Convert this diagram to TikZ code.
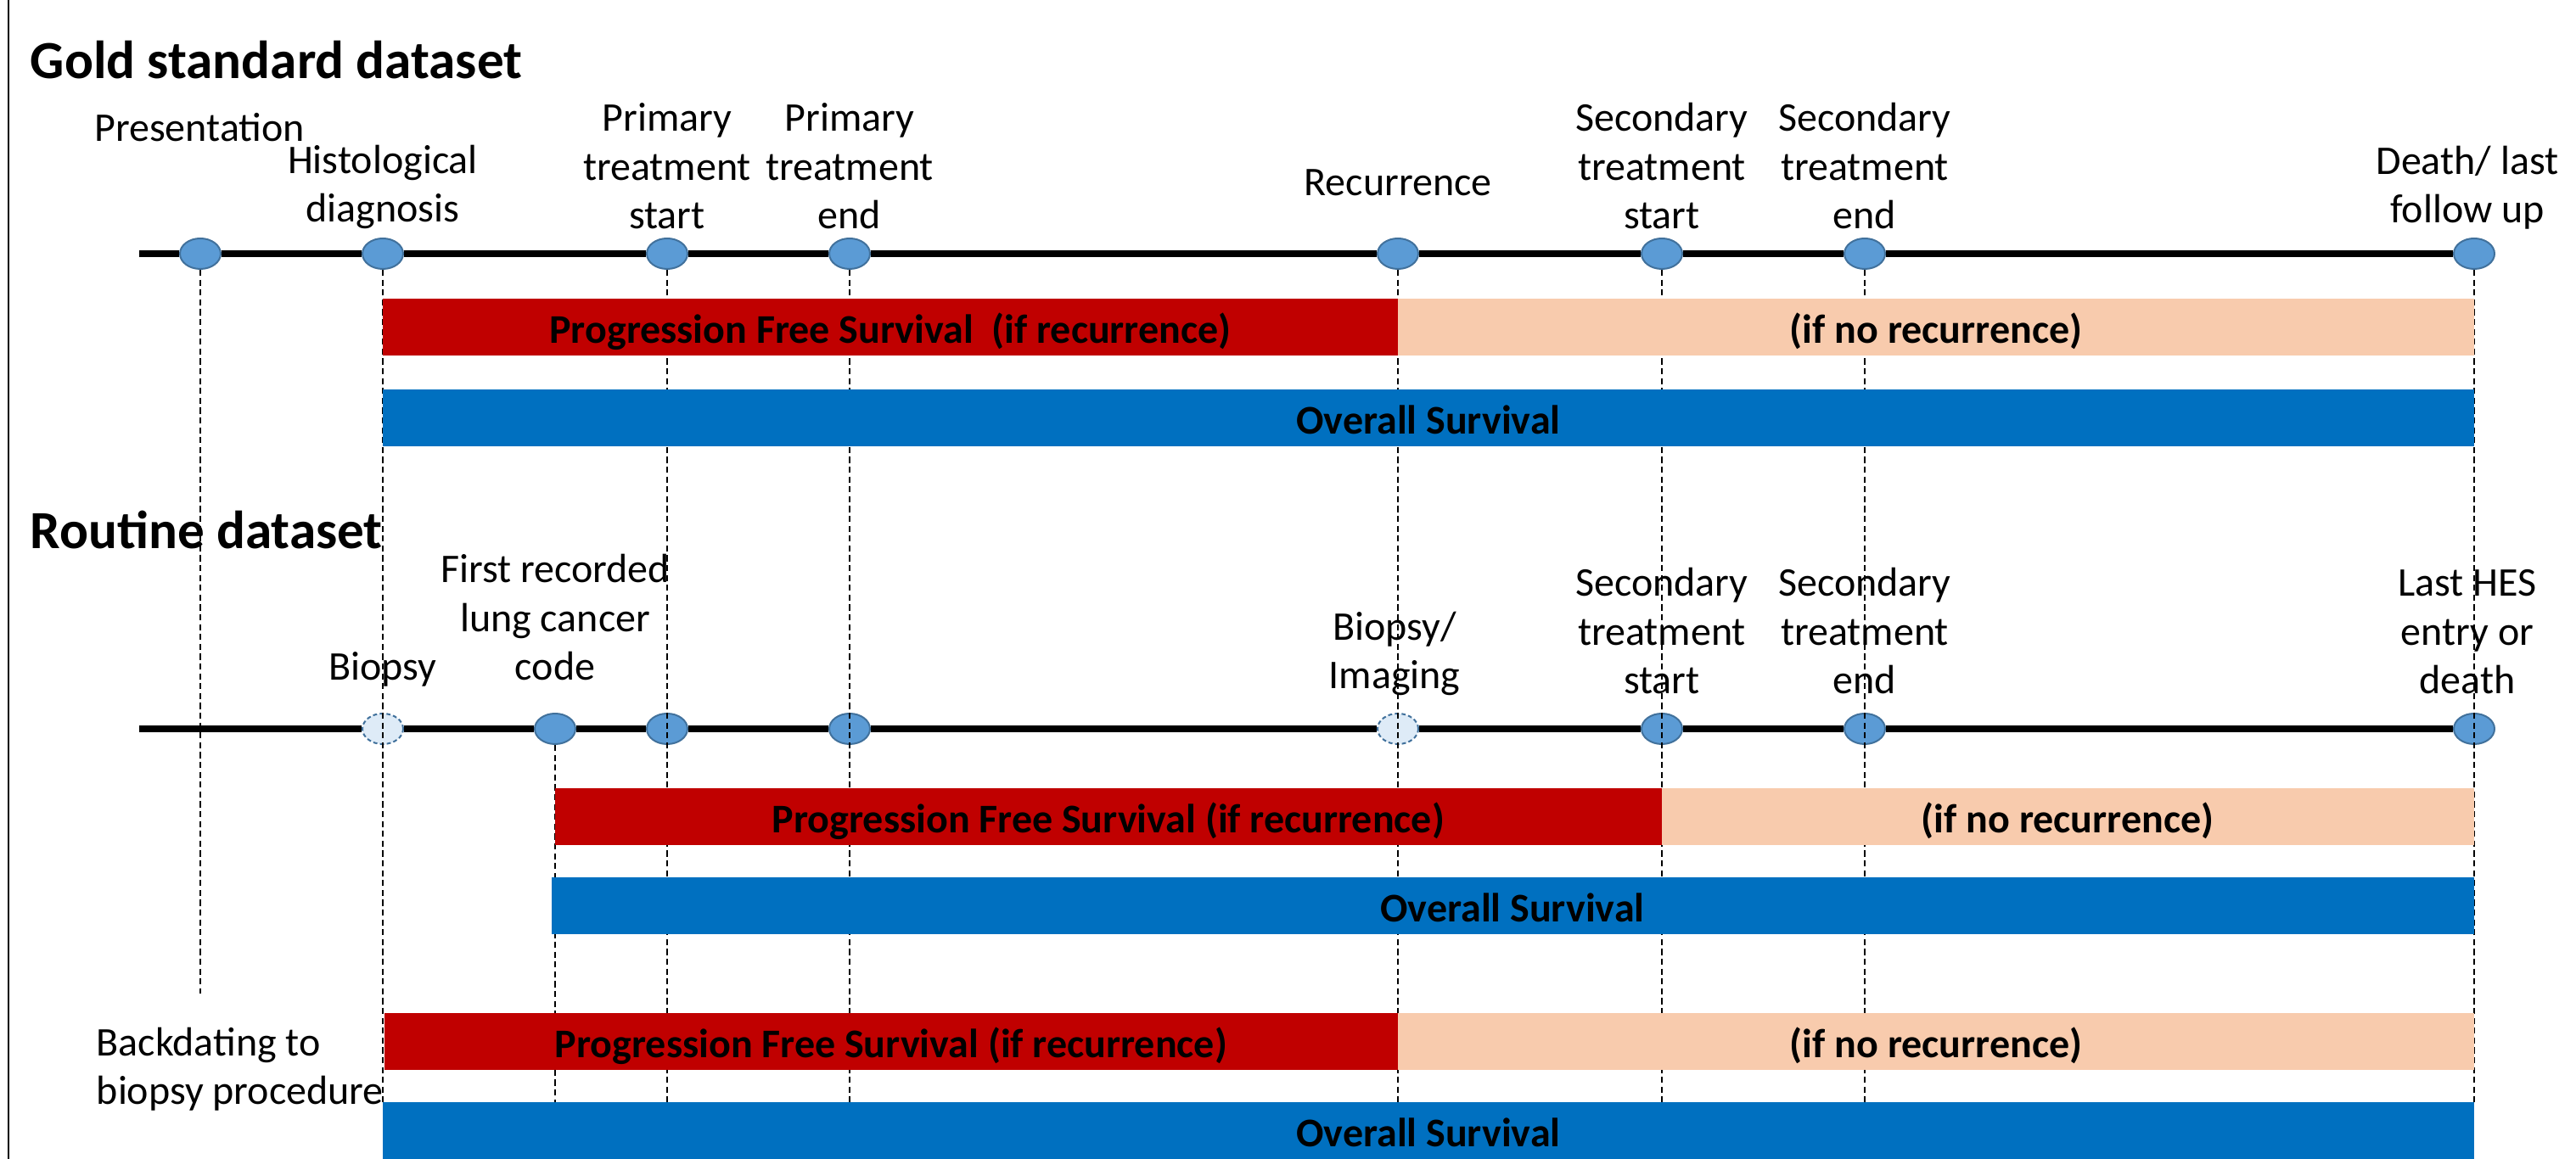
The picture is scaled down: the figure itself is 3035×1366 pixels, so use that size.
\documentclass[tikz,border=0pt]{standalone}
\usepackage{fontspec}
\setmainfont{Carlito}
\usepackage{tikz}
\usetikzlibrary{shapes.geometric}

\definecolor{pfsred}{HTML}{C00000}
\definecolor{norec}{HTML}{F8CBAD}
\definecolor{osblue}{HTML}{0070C0}
\definecolor{evfill}{HTML}{5B9BD5}
\definecolor{evline}{HTML}{41719C}
\definecolor{evlight}{HTML}{DEEBF7}

\begin{document}
\begin{tikzpicture}[x=0.25pt,y=-0.25pt,
	event/.style={ellipse,draw=evline,fill=evfill,line width=0.5pt,minimum width=12pt,minimum height=9pt,inner sep=0pt},
	uncertain/.style={event,fill=evlight,dash pattern=on 1.2pt off 0.8pt},
	lbl/.style={anchor=base,align=center,font=\fontsize{12}{14.4}\selectfont,inner sep=0pt},
	bartxt/.style={anchor=base,font=\fontsize{12}{14.4}\selectfont\bfseries,inner sep=0pt},
	heading/.style={anchor=base west,font=\fontsize{15.8}{18}\selectfont\bfseries,inner sep=0pt},
	guide/.style={dash pattern=on 1.8pt off 1.1pt,line width=0.35pt},
	axis/.style={line width=1.9pt}]
	\useasboundingbox (0,0) rectangle (3035,1366);
	\draw[line width=0.6pt] (10,0) -- (10,1366);
	
	%gold standard timeline
	\node[heading] (gtitle) at (35,93) {Gold standard dataset};
	\coordinate (g0) at (164,299);
	\node[event] (g1) at (236,299) {};
	\node[event] (g2) at (451,299) {};
	\node[event] (g3) at (786,299) {};
	\node[event] (g4) at (1001,299) {};
	\node[event] (g5) at (1647,299) {};
	\node[event] (g6) at (1958,299) {};
	\node[event] (g7) at (2197,299) {};
	\node[event] (g8) at (2915,299) {};
	\draw[axis] (g0) -- (g1) -- (g2) -- (g3) -- (g4) -- (g5) -- (g6) -- (g7) -- (g8);
	%
	\node[lbl] at (235,167) {Presentation};
	\node[lbl] at (451,262) {Histological\\diagnosis};
	\node[lbl] at (786,270) {Primary\\treatment\\start};
	\node[lbl] at (1001,270) {Primary\\treatment\\end};
	\node[lbl] at (1647,231) {Recurrence};
	\node[lbl] at (1958,270) {Secondary\\treatment\\start};
	\node[lbl] at (2197,270) {Secondary\\treatment\\end};
	\node[lbl] at (2907,263) {Death/ last\\follow up};
	
	%routine timeline
	\node[heading] (rtitle) at (35,647) {Routine dataset};
	\coordinate (r0) at (164,859);
	\node[uncertain] (r1) at (451,859) {};
	\node[event] (r2) at (654,859) {};
	\node[event] (r3) at (786,859) {};
	\node[event] (r4) at (1001,859) {};
	\node[uncertain] (r5) at (1647,859) {};
	\node[event] (r6) at (1958,859) {};
	\node[event] (r7) at (2197,859) {};
	\node[event] (r8) at (2915,859) {};
	\draw[axis] (r0) -- (r1) -- (r2) -- (r3) -- (r4) -- (r5) -- (r6) -- (r7) -- (r8);
	%
	\node[lbl] at (451,802) {Biopsy};
	\node[lbl] at (654,802) {First recorded\\lung cancer\\code};
	\node[lbl] at (1643,812) {Biopsy/\\Imaging};
	\node[lbl] at (1958,818) {Secondary\\treatment\\start};
	\node[lbl] at (2197,818) {Secondary\\treatment\\end};
	\node[lbl] at (2907,818) {Last HES\\entry or\\death};
	\node[lbl,anchor=base west,align=left] at (113,1302) {Backdating to\\biopsy procedure};
	
	%dashed guides
	\coordinate (low) at (0,1299);
	\coordinate (pend) at (0,1171);
	\draw[guide] (g1) -- (g1 |- pend);
	\draw[guide] (g2) -- (g2 |- low);
	\draw[guide] (g3) -- (g3 |- low);
	\draw[guide] (g4) -- (g4 |- low);
	\draw[guide] (g5) -- (g5 |- low);
	\draw[guide] (g6) -- (g6 |- low);
	\draw[guide] (g7) -- (g7 |- low);
	\draw[guide] (g8) -- (g8 |- low);
	\draw[guide] (r2) -- (r2 |- low);
	
	%gold bars
	\fill[pfsred] (g2 |- 0,352) rectangle (g5 |- 0,419);
	\fill[norec] (g5 |- 0,352) rectangle (g8 |- 0,419);
	\fill[osblue] (g2 |- 0,459) rectangle (g8 |- 0,526);
	\node[bartxt] (gpfs) at (1049,405) {Progression Free Survival\ \ (if recurrence)};
	\node[bartxt] (gnr) at (2281,405) {(if no recurrence)};
	\node[bartxt] (gos) at (1683,512) {Overall Survival};
	
	%routine bars
	\fill[pfsred] (r2 |- 0,929) rectangle (r6 |- 0,996);
	\fill[norec] (r6 |- 0,929) rectangle (r8 |- 0,996);
	\fill[osblue] (650,1034) rectangle (r8 |- 0,1101);
	\node[bartxt] (rpfs) at (1306,982) {Progression Free Survival (if recurrence)};
	\node[bartxt] (rnr) at (2436,982) {(if no recurrence)};
	\node[bartxt] (ros) at (1782,1087) {Overall Survival};
	
	%backdated bars
	\fill[pfsred] (453,1194) rectangle (g5 |- 0,1261);
	\fill[norec] (g5 |- 0,1194) rectangle (g8 |- 0,1261);
	\fill[osblue] (g2 |- 0,1299) rectangle (g8 |- 0,1366);
	\node[bartxt] (bpfs) at (1050,1247) {Progression Free Survival (if recurrence)};
	\node[bartxt] (bnr) at (2281,1247) {(if no recurrence)};
	\node[bartxt] (bos) at (1683,1352) {Overall Survival};
\end{tikzpicture}
\end{document}
